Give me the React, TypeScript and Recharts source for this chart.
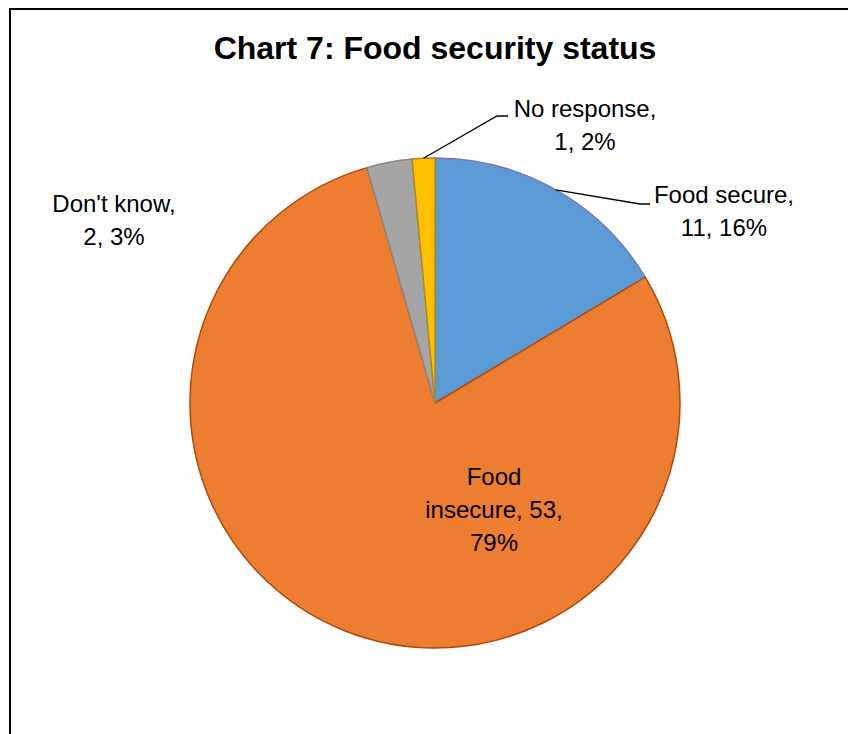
import { Cell, Pie, PieChart } from 'recharts'

const categories = ['Food secure', 'Food insecure', "Don't know", 'No response']
const counts = [11, 53, 2, 1]
const percentLabels = [16, 79, 3, 2]
const fills = ['#5B9BD5', '#ED7D31', '#A5A5A5', '#FFC000']
const strokes = ['#7F74B6', '#AE4A0C', '#8A8A8A', '#B08A1E']

const data = categories.map((name, i) => ({ name, value: counts[i], pct: percentLabels[i] }))

const FONT = "'Liberation Sans', Arial, sans-serif"

// label placement relative to the pie centre (x = centre of text, y = first baseline)
const labelPos = [
  { dx: 289, dy: -200, elbow: [205, -199], end: [215, -199] },
  { dx: 59, dy: 82 },
  { dx: -321, dy: -191 },
  { dx: 150, dy: -286, elbow: [62, -287], end: [73, -287] }
]

const RAD = Math.PI / 180
const LINE_H = 33

const wrap = (text: string, max: number) => {
  const out: string[] = []
  let cur = ''
  text.split(' ').forEach((w) => {
    const next = cur ? cur + ' ' + w : w
    if (next.length > max && cur) {
      out.push(cur)
      cur = w
    } else cur = next
  })
  if (cur) out.push(cur)
  return out
}

const renderLabel = (props: any) => {
  const { cx, cy, midAngle, outerRadius, index, payload } = props
  const pos = labelPos[index]
  const lines = wrap(`${payload.name}, ${payload.value}, ${payload.pct}%`, 13)
  const x = cx + pos.dx
  const y = cy + pos.dy
  const sx = cx + outerRadius * Math.cos(-midAngle * RAD)
  const sy = cy + outerRadius * Math.sin(-midAngle * RAD)
  return (
    <g key={`lbl-${index}`}>
      {pos.elbow && (
        <polyline
          points={`${sx},${sy} ${cx + pos.elbow[0]},${cy + pos.elbow[1]} ${cx + pos.end![0]},${cy + pos.end![1]}`}
          fill="none"
          stroke="#000"
          strokeWidth={1.3}
        />
      )}
      <text x={x} y={y} textAnchor="middle" fontSize={24} fill="#000" fontFamily={FONT}>
        {lines.map((l, i) => (
          <tspan key={i} x={x} y={y + i * LINE_H}>
            {l}
          </tspan>
        ))}
      </text>
    </g>
  )
}

const App = () => {
  return (
    <div style={{ position: 'absolute', left: 0, top: 0, width: 848, height: 734, background: '#fff' }}>
      <div
        style={{
          position: 'absolute',
          left: 9,
          top: 8,
          width: 839,
          height: 726,
          borderTop: '2px solid #000',
          borderLeft: '2px solid #000'
        }}
      />
      <svg style={{ position: 'absolute', left: 0, top: 0 }} width={848} height={80}>
        <text x={435} y={59} textAnchor="middle" fontFamily={FONT} fontWeight="bold" fontSize={32} fill="#000">
          Chart 7: Food security status
        </text>
      </svg>
      <div style={{ position: 'absolute', left: 0, top: 0 }}>
        <PieChart width={848} height={734} margin={{ top: 0, right: 0, bottom: 0, left: 0 }}>
          <Pie
            data={data}
            dataKey="value"
            nameKey="name"
            cx={435}
            cy={403}
            outerRadius={245}
            startAngle={90}
            endAngle={-270}
            label={renderLabel}
            labelLine={false}
            isAnimationActive={false}
          >
            {data.map((d, i) => (
              <Cell key={d.name} fill={fills[i]} stroke={strokes[i]} strokeWidth={1.5} />
            ))}
          </Pie>
        </PieChart>
      </div>
    </div>
  )
}

export default App
